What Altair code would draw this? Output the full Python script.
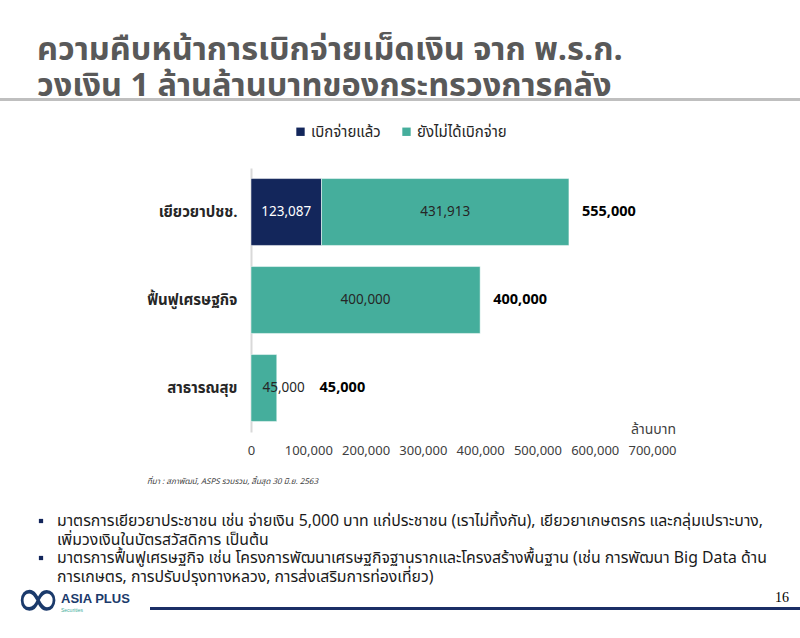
import altair as alt
import pandas as pd

# ---- data ----
categories = ["เยียวยาปชช.", "ฟื้นฟูเศรษฐกิจ", "สาธารณสุข"]
series_names = ["เบิกจ่ายแล้ว", "ยังไม่ได้เบิกจ่าย"]
disbursed = [123087, 0, 0]
remaining = [431913, 400000, 45000]
totals = [555000, 400000, 45000]
x_ticks = [0, 100000, 200000, 300000, 400000, 500000, 600000, 700000]

title_lines = ["ความคืบหน้าการเบิกจ่ายเม็ดเงิน จาก พ.ร.ก.",
               "วงเงิน 1 ล้านล้านบาทของกระทรวงการคลัง"]
unit_label = "ล้านบาท"
source_note = "ที่มา : สภาพัฒน์, ASPS รวบรวม, สิ้นสุด 30 มิ.ย. 2563"
bullet_lines = [
    "มาตรการเยียวยาประชาชน เช่น จ่ายเงิน 5,000 บาท แก่ประชาชน (เราไม่ทิ้งกัน), เยียวยาเกษตรกร และกลุ่มเปราะบาง,",
    "เพิ่มวงเงินในบัตรสวัสดิการ เป็นต้น",
    "มาตรการฟื้นฟูเศรษฐกิจ เช่น โครงการพัฒนาเศรษฐกิจฐานรากและโครงสร้างพื้นฐาน (เช่น การพัฒนา Big Data ด้าน",
    "การเกษตร, การปรับปรุงทางหลวง, การส่งเสริมการท่องเที่ยว)",
]
page_number = "16"

NAVY = "#13265b"
TEAL = "#45ae9c"
FONT = "Noto Sans Thai, Noto Sans, Tahoma, sans-serif"

# ---- long table ----
rows = []
for i, c in enumerate(categories):
    start = 0
    for s, v in zip(series_names, [disbursed[i], remaining[i]]):
        if v > 0:
            rows.append({"cat": c, "series": s, "value": v, "start": start,
                         "end": start + v})
        start += v
seg = pd.DataFrame(rows)
tot = pd.DataFrame({"cat": categories, "total": totals})

y_enc = alt.Y("cat:N", sort=categories, title=None,
              scale=alt.Scale(paddingInner=0.24, paddingOuter=0.12),
              axis=alt.Axis(domain=True, domainColor="#d9d9d9", domainWidth=2,
                            ticks=False, labelFontSize=15, labelFontWeight="bold",
                            labelColor="#262626", labelPadding=14, labelFont=FONT))
x_scale = alt.Scale(domain=[0, 700000], nice=False)

bars = alt.Chart(seg).mark_bar(stroke="white", strokeWidth=0.5).encode(
    x=alt.X("start:Q", scale=x_scale, title=None,
            axis=alt.Axis(values=x_ticks, format=",d", grid=False, ticks=False,
                          domain=False, labelFontSize=13, labelColor="#404040",
                          labelPadding=12, labelFont=FONT, labelOverlap=False,
                          labelFlush=False)),
    x2="end:Q",
    y=y_enc,
    color=alt.Color("series:N", scale=alt.Scale(domain=series_names, range=[NAVY, TEAL]),
                    legend=alt.Legend(orient="none", legendX=42, legendY=-44,
                                      direction="horizontal", title=None,
                                      symbolType="square", symbolSize=70,
                                      symbolStrokeWidth=0, labelFontSize=15,
                                      labelOffset=3, labelColor="#262626",
                                      columnPadding=18, labelFont=FONT)),
)

seg_labels = alt.Chart(seg).transform_calculate(
    mid="max((datum.start + datum.end) / 2, 57000)"
).mark_text(fontSize=13.5, font=FONT, baseline="middle").encode(
    x=alt.X("mid:Q", scale=x_scale),
    y=alt.Y("cat:N", sort=categories),
    text=alt.Text("value:Q", format=",d"),
    color=alt.condition(alt.datum.series == series_names[0],
                        alt.value("white"), alt.value("#262626")),
)

tot_labels = alt.Chart(tot).transform_calculate(
    pos="max(datum.total, 97000)"
).mark_text(fontSize=14.5, fontWeight="bold", font=FONT, align="left",
            baseline="middle", dx=13, color="black").encode(
    x=alt.X("pos:Q", scale=x_scale),
    y=alt.Y("cat:N", sort=categories),
    text=alt.Text("total:Q", format=",d"),
)

def txt(s, x, y, **kw):
    props = dict(font=FONT, align="left", baseline="middle")
    props.update(kw)
    return alt.Chart(pd.DataFrame({"t": [s]})).mark_text(**props).encode(
        x=alt.value(x), y=alt.value(y), text="t:N")

# plot origin is at page (251, 168)
layers = [bars, seg_labels, tot_labels]
layers.append(txt("\n".join(title_lines), -214, -108, fontSize=32.5, fontWeight="bold",
                  color="#595959", baseline="alphabetic", lineBreak="\n",
                  lineHeight=35.5))
layers.append(alt.Chart(pd.DataFrame({"a": [0]})).mark_rule(
    color="#bfbfbf", strokeWidth=3).encode(
    x=alt.value(-251), x2=alt.value(549), y=alt.value(-68.5)))
layers.append(txt(unit_label, 425, 262, fontSize=14, color="#404040", align="right"))
layers.append(txt(source_note, -104, 314, fontSize=8, fontStyle="italic", color="#404040"))
layers.append(txt("\n".join(bullet_lines), -194, 353, fontSize=15.8, color="#1a1a1a",
                  baseline="middle", lineBreak="\n", lineHeight=18.67))
layers.append(alt.Chart(pd.DataFrame({"y": [353, 390]})).mark_square(
    size=18, color=NAVY, opacity=1).encode(x=alt.value(-210), y=alt.Y("y:Q", scale=None)))
layers.append(alt.Chart(pd.DataFrame({"a": [0]})).mark_rule(
    color="#1b2f66", strokeWidth=3).encode(
    x=alt.value(-101), x2=alt.value(549), y=alt.value(440.5)))
layers.append(txt(page_number, 531, 430, fontSize=14, font="Liberation Serif",
                  color="black", align="center"))
layers.append(txt("∞", -213, 432, fontSize=56, font="DejaVu Sans", color="#1b3a6b",
                  align="center"))
layers.append(txt("ASIA PLUS", -190, 431, fontSize=13, fontWeight="bold",
                  font="Liberation Sans", color="#1b3a6b"))
layers.append(txt("Securities", -190, 442, fontSize=5, font="Liberation Sans",
                  color=TEAL))

chart = alt.layer(*layers).properties(
    width=401, height=264,
    autosize=alt.AutoSizeParams(type="none"),
    padding={"left": 251, "top": 168, "right": 148, "bottom": 206},
    background="white",
).configure_view(stroke=None)

chart.save("out.html", embed_options={"renderer": "svg", "actions": False})
